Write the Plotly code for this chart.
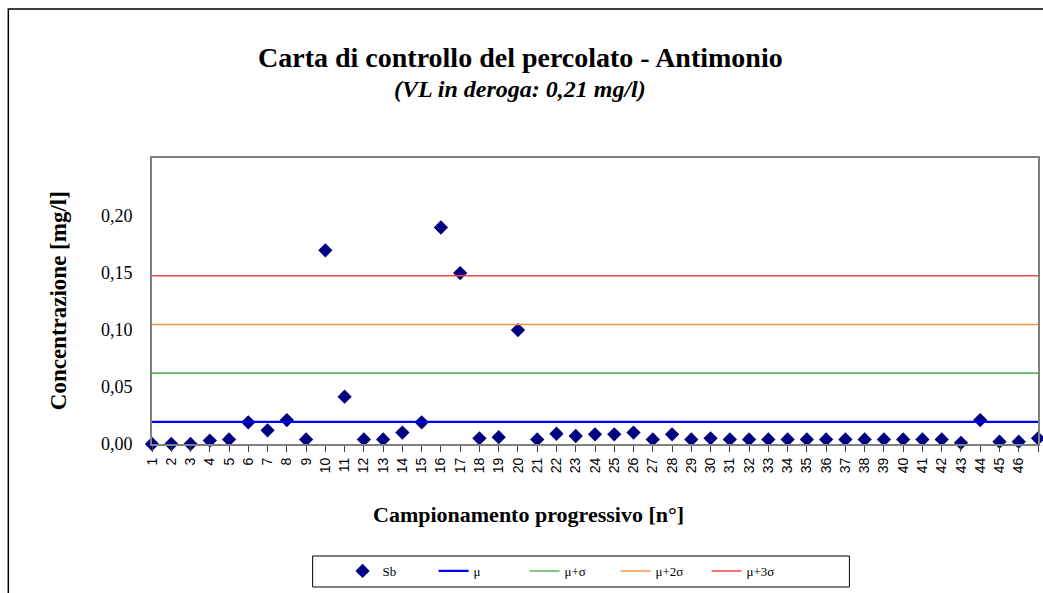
import plotly.graph_objects as go

campioni = list(range(1, 48))
sb = [0.000, 0.000, 0.000, 0.003, 0.004, 0.019, 0.012, 0.021, 0.004, 0.170,
      0.0415, 0.004, 0.004, 0.010, 0.019, 0.190, 0.150, 0.005, 0.006, 0.100,
      0.004, 0.009, 0.007, 0.0085, 0.0085, 0.010, 0.004, 0.0085, 0.004, 0.005,
      0.004, 0.004, 0.004, 0.004, 0.004, 0.004, 0.004, 0.004, 0.004, 0.004,
      0.004, 0.004, 0.001, 0.021, 0.002, 0.002, 0.005]
mu = 0.0195
sigma = 0.0427
y_ticks = [0.0, 0.05, 0.10, 0.15, 0.20]

W, H = 1043, 593
L, R, T, B = 152, 1040, 158, 444
pw, ph = R - L, B - T

def px(x):
    return (x - L) / pw

def py(y):
    return (B - y) / ph

fig = go.Figure()
fig.add_trace(go.Scatter(x=campioni, y=sb, mode="markers", name="Sb",
                         marker=dict(symbol="diamond", size=11, color="#000080"),
                         cliponaxis=False))
lines = [("μ", mu, "#0000FF", 2.2), ("μ+σ", mu + sigma, "#5CB45C", 1.6),
         ("μ+2σ", mu + 2 * sigma, "#FF9444", 1.6), ("μ+3σ", mu + 3 * sigma, "#F04848", 1.6)]
for name, val, col, w in lines:
    fig.add_trace(go.Scatter(x=campioni, y=[val] * len(campioni), mode="lines",
                             name=name, line=dict(color=col, width=w)))

fig.update_layout(
    width=W, height=H,
    margin=dict(l=L, r=W - R, t=T, b=H - B),
    paper_bgcolor="white", plot_bgcolor="white",
    separators=",.",
    showlegend=True,
    legend=dict(orientation="h", x=px(343), y=py(571), xanchor="left", yanchor="middle",
                borderwidth=0, bgcolor="rgba(0,0,0,0)",
                font=dict(family="Liberation Serif", size=13, color="black"),
                entrywidth=46, entrywidthmode="pixels"),
    font=dict(family="Liberation Serif", color="black"),
)
fig.update_xaxes(range=[1, 47], tickmode="array", tickvals=campioni,
                 ticktext=[str(c) for c in campioni], tickangle=-90,
                 tickfont=dict(family="Liberation Sans", size=14, color="black"),
                 ticks="outside", ticklen=6, tickcolor="#404040",
                 showline=True, linecolor="#808080", linewidth=2, mirror=True,
                 showgrid=False, zeroline=False)
fig.update_yaxes(range=[0, 0.251], tickmode="array", tickvals=y_ticks, tickformat=".2f",
                 tickfont=dict(family="Liberation Serif", size=18, color="black"),
                 ticks="", ticklabelstandoff=14,
                 showline=True, linecolor="#808080", linewidth=2, mirror=True,
                 showgrid=False, zeroline=False)

ann = [
    dict(text="<b>Carta di controllo del percolato - Antimonio</b>", x=px(521), y=py(57),
         font=dict(family="Liberation Serif", size=28, color="black")),
    dict(text="<b><i>(VL in deroga: 0,21 mg/l)</i></b>", x=px(521), y=py(89),
         font=dict(family="Liberation Serif", size=24, color="black")),
    dict(text="<b>Concentrazione [mg/l]</b>", x=px(58), y=py(301), textangle=-90,
         font=dict(family="Liberation Serif", size=23, color="black")),
    dict(text="<b>Campionamento progressivo [n°]</b>", x=px(529), y=py(514),
         font=dict(family="Liberation Serif", size=22, color="black")),
]
for a in ann:
    fig.add_annotation(xref="paper", yref="paper", showarrow=False,
                       xanchor="center", yanchor="middle", **a)

# outer chart frame
fig.add_shape(type="rect", xref="paper", yref="paper",
              x0=px(8), x1=px(1100), y0=py(700), y1=py(9),
              line=dict(color="black", width=1.5), fillcolor="rgba(0,0,0,0)", layer="below")
# legend frame
fig.add_shape(type="rect", xref="paper", yref="paper",
              x0=px(313), x1=px(851), y0=py(587), y1=py(556),
              line=dict(color="black", width=1), fillcolor="rgba(0,0,0,0)", layer="below")

fig.write_html("out.html", config={"displayModeBar": False},
               post_script="document.body.style.margin='0';document.body.style.overflow='hidden';")
